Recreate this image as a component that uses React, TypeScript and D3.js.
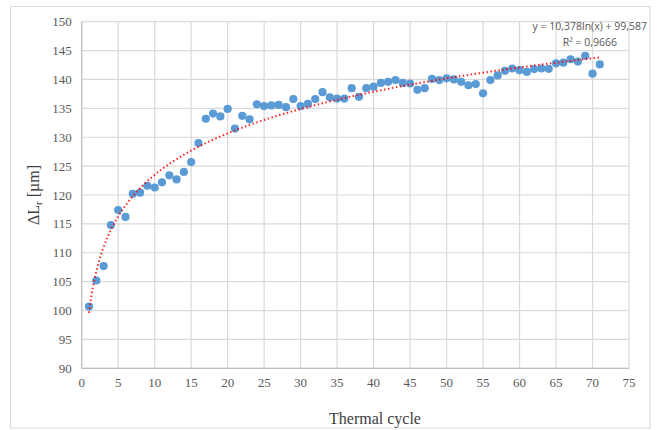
import React from "react";
import * as d3 from "d3";

const cycles = [
  1, 2, 3, 4, 5, 6, 7, 8, 9, 10, 11, 12, 13, 14, 15, 16, 17, 18, 19, 20,
  21, 22, 23, 24, 25, 26, 27, 28, 29, 30, 31, 32, 33, 34, 35, 36, 37, 38, 39, 40,
  41, 42, 43, 44, 45, 46, 47, 48, 49, 50, 51, 52, 53, 54, 55, 56, 57, 58, 59, 60,
  61, 62, 63, 64, 65, 66, 67, 68, 69, 70, 71,
];
const deltaL = [
  100.7, 105.2, 107.7, 114.8, 117.4, 116.2, 120.2, 120.4, 121.6, 121.3,
  122.2, 123.4, 122.7, 124.0, 125.7, 129.0, 133.2, 134.1, 133.6, 134.9,
  131.5, 133.7, 133.1, 135.7, 135.4, 135.5, 135.6, 135.2, 136.6, 135.4,
  135.8, 136.6, 137.8, 136.9, 136.7, 136.7, 138.5, 137.0, 138.5, 138.75,
  139.4, 139.6, 139.9, 139.4, 139.3, 138.2, 138.5, 140.1, 139.9, 140.2,
  140.0, 139.6, 139.0, 139.2, 137.6, 139.9, 140.7, 141.5, 141.9, 141.6,
  141.3, 141.8, 141.9, 141.85, 142.8, 142.9, 143.5, 143.1, 144.1, 141.0,
  142.6,
];
const xTicks = [0, 5, 10, 15, 20, 25, 30, 35, 40, 45, 50, 55, 60, 65, 70, 75];
const yTicks = [90, 95, 100, 105, 110, 115, 120, 125, 130, 135, 140, 145, 150];
const trendA = 10.378;
const trendB = 99.587;
const equationText = "y = 10,378ln(x) + 99,587";
const r2Text = "R² = 0,9666";
const xTitle = "Thermal cycle";

const W = 658;
const H = 430;
const L = 81.7;
const R = 629;
const T = 21.7;
const B = 368.3;

export default function App() {
  const x = d3.scaleLinear().domain([0, 75]).range([L, R]);
  const y = d3.scaleLinear().domain([90, 150]).range([B, T]);
  const trendX = d3.range(1, 71.001, 0.25);
  const trendLine = d3
    .line<number>()
    .x((d) => x(d))
    .y((d) => y(trendA * Math.log(d) + trendB))(trendX);
  const pts = cycles.map((c, i) => ({ c, v: deltaL[i] }));
  return (
    <svg
      width={W}
      height={H}
      style={{ position: "absolute", left: 0, top: 0, display: "block", background: "#fff" }}
    >
      <rect x={10.5} y={6.5} width={639.5} height={421.5} fill="#fff" stroke="#d9d9d9" strokeWidth={1} />
      {xTicks.map((t) => (
        <line key={"gx" + t} x1={x(t)} x2={x(t)} y1={T} y2={B} stroke="#d9d9d9" strokeWidth={1.2} />
      ))}
      {yTicks.map((t) => (
        <line key={"gy" + t} x1={L} x2={R} y1={y(t)} y2={y(t)} stroke="#d9d9d9" strokeWidth={1.2} />
      ))}
      <line x1={L} x2={R} y1={B} y2={B} stroke="#bfbfbf" strokeWidth={1.2} />
      <line x1={L} x2={L} y1={T} y2={B} stroke="#bfbfbf" strokeWidth={1.2} />
      {xTicks.map((t) => (
        <text
          key={"tx" + t}
          x={x(t)}
          y={B + 19}
          textAnchor="middle"
          fontFamily="'Liberation Serif', 'Times New Roman', serif"
          fontSize={13}
          fill="#595959"
        >
          {t}
        </text>
      ))}
      {yTicks.map((t) => (
        <text
          key={"ty" + t}
          x={L - 10}
          y={y(t) + 4.5}
          textAnchor="end"
          fontFamily="'Liberation Serif', 'Times New Roman', serif"
          fontSize={13}
          fill="#595959"
        >
          {t}
        </text>
      ))}
      <text
        x={375}
        y={424}
        textAnchor="middle"
        fontFamily="'Liberation Serif', 'Times New Roman', serif"
        fontSize={16}
        fill="#404040"
      >
        {xTitle}
      </text>
      <text
        transform={`translate(39, ${(T + B) / 2}) rotate(-90)`}
        textAnchor="middle"
        fontFamily="'Liberation Serif', 'Times New Roman', serif"
        fontSize={16}
        fill="#404040"
      >
        ΔL
        <tspan fontSize={11} dy={3}>r</tspan>
        <tspan dy={-3}> [µm]</tspan>
      </text>
      {pts.map((p) => (
        <circle key={"p" + p.c} cx={x(p.c)} cy={y(p.v)} r={4.1} fill="#5b9bd5" />
      ))}
      <path
        d={trendLine || ""}
        fill="none"
        stroke="#ff0000"
        strokeWidth={2}
        strokeDasharray="1.5,2.5"
        strokeLinecap="butt"
        opacity={0.85}
      />
      <text
        x={647}
        y={30}
        textAnchor="end"
        fontFamily="'Open Sans', 'Noto Sans', sans-serif"
        fontSize={10.5}
        fill="#595959"
      >
        {equationText}
      </text>
      <text
        x={617}
        y={46}
        textAnchor="end"
        fontFamily="'Open Sans', 'Noto Sans', sans-serif"
        fontSize={10.5}
        fill="#595959"
      >
        {r2Text}
      </text>
    </svg>
  );
}
